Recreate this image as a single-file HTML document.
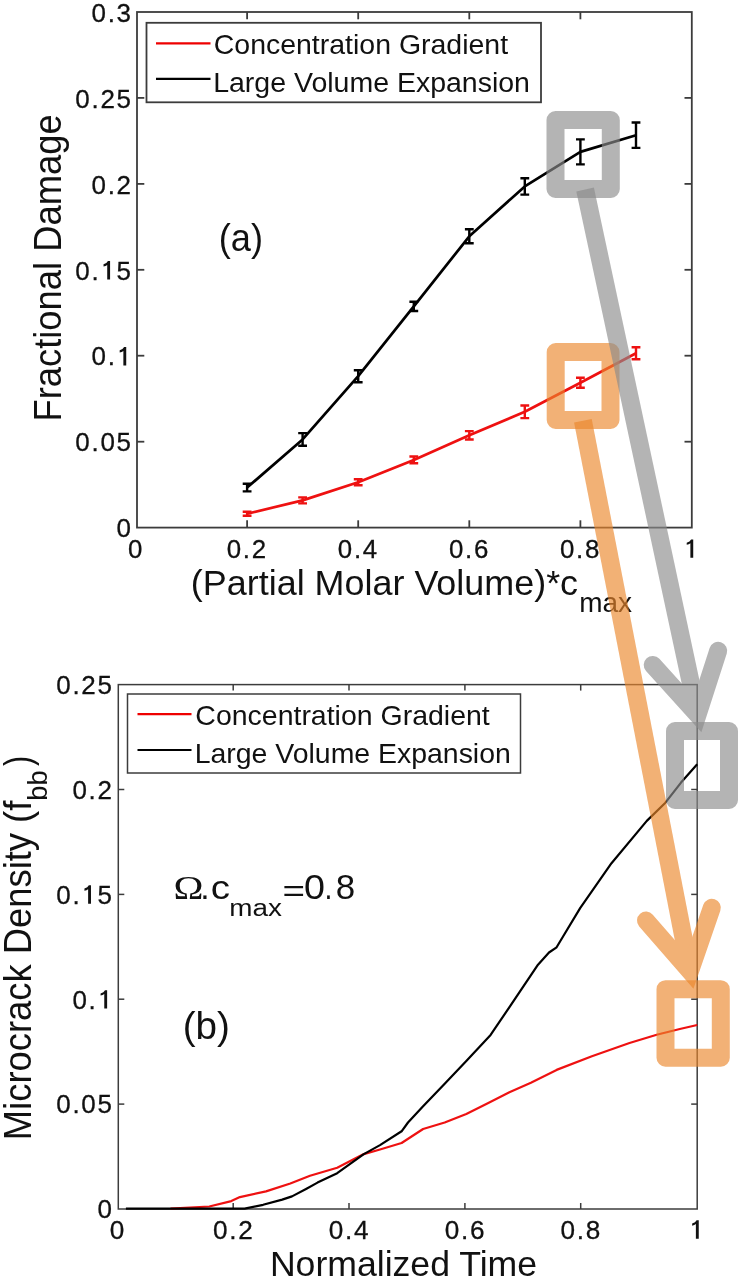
<!DOCTYPE html>
<html><head><meta charset="utf-8"><style>
html,body{margin:0;padding:0;background:#fff;width:742px;height:1280px;overflow:hidden}
svg{display:block;filter:blur(0.35px)}
text{font-family:"Liberation Sans", sans-serif;fill:#111}
.tk{stroke:#111;stroke-width:0.3px}
</style></head><body>
<svg width="742" height="1280" viewBox="0 0 742 1280">
<rect x="137.0" y="12.0" width="554.8" height="515.6" fill="none" stroke="#3c3c3c" stroke-width="1.8"/>
<text class="tk" x="116.56" y="537.35" font-size="25.99">0</text>
<line x1="137.0" y1="441.7" x2="144.3" y2="441.7" stroke="#3c3c3c" stroke-width="1.8"/>
<line x1="691.8" y1="441.7" x2="684.5" y2="441.7" stroke="#3c3c3c" stroke-width="1.8"/>
<text class="tk" x="75.33 91.49 100.41 116.56" y="451.41" font-size="25.99">0.05</text>
<line x1="137.0" y1="355.7" x2="144.3" y2="355.7" stroke="#3c3c3c" stroke-width="1.8"/>
<line x1="691.8" y1="355.7" x2="684.5" y2="355.7" stroke="#3c3c3c" stroke-width="1.8"/>
<text class="tk" x="91.49 107.64" y="365.48" font-size="25.99">0.</text><path d="M0.262,0L0.372,0L0.372,-0.709L0.29,-0.709Q0.25,-0.62,0.12,-0.585L0.12,-0.5Q0.21,-0.52,0.262,-0.56Z" transform="translate(116.56,365.48) scale(25.99)" fill="#111"/>
<line x1="137.0" y1="269.8" x2="144.3" y2="269.8" stroke="#3c3c3c" stroke-width="1.8"/>
<line x1="691.8" y1="269.8" x2="684.5" y2="269.8" stroke="#3c3c3c" stroke-width="1.8"/>
<text class="tk" x="75.33 91.49 116.56" y="279.55" font-size="25.99">0.5</text><path d="M0.262,0L0.372,0L0.372,-0.709L0.29,-0.709Q0.25,-0.62,0.12,-0.585L0.12,-0.5Q0.21,-0.52,0.262,-0.56Z" transform="translate(100.41,279.55) scale(25.99)" fill="#111"/>
<line x1="137.0" y1="183.9" x2="144.3" y2="183.9" stroke="#3c3c3c" stroke-width="1.8"/>
<line x1="691.8" y1="183.9" x2="684.5" y2="183.9" stroke="#3c3c3c" stroke-width="1.8"/>
<text class="tk" x="91.49 107.64 116.56" y="193.61" font-size="25.99">0.2</text>
<line x1="137.0" y1="97.9" x2="144.3" y2="97.9" stroke="#3c3c3c" stroke-width="1.8"/>
<line x1="691.8" y1="97.9" x2="684.5" y2="97.9" stroke="#3c3c3c" stroke-width="1.8"/>
<text class="tk" x="75.33 91.49 100.41 116.56" y="107.68" font-size="25.99">0.25</text>
<text class="tk" x="91.49 107.64 116.56" y="21.75" font-size="25.99">0.3</text>
<text class="tk" x="128.11" y="557.75" font-size="25.85">0</text>
<line x1="247.1" y1="527.6" x2="247.1" y2="520.3000000000001" stroke="#3c3c3c" stroke-width="1.8"/>
<line x1="247.1" y1="12.0" x2="247.1" y2="19.3" stroke="#3c3c3c" stroke-width="1.8"/>
<text class="tk" x="226.73 242.81 251.69" y="557.75" font-size="25.85">0.2</text>
<line x1="358.2" y1="527.6" x2="358.2" y2="520.3000000000001" stroke="#3c3c3c" stroke-width="1.8"/>
<line x1="358.2" y1="12.0" x2="358.2" y2="19.3" stroke="#3c3c3c" stroke-width="1.8"/>
<text class="tk" x="337.83 353.91 362.79" y="557.75" font-size="25.85">0.4</text>
<line x1="469.3" y1="527.6" x2="469.3" y2="520.3000000000001" stroke="#3c3c3c" stroke-width="1.8"/>
<line x1="469.3" y1="12.0" x2="469.3" y2="19.3" stroke="#3c3c3c" stroke-width="1.8"/>
<text class="tk" x="448.93 465.01 473.89" y="557.75" font-size="25.85">0.6</text>
<line x1="580.4" y1="527.6" x2="580.4" y2="520.3000000000001" stroke="#3c3c3c" stroke-width="1.8"/>
<line x1="580.4" y1="12.0" x2="580.4" y2="19.3" stroke="#3c3c3c" stroke-width="1.8"/>
<text class="tk" x="560.03 576.11 584.99" y="557.75" font-size="25.85">0.8</text>
<path d="M0.262,0L0.372,0L0.372,-0.709L0.29,-0.709Q0.25,-0.62,0.12,-0.585L0.12,-0.5Q0.21,-0.52,0.262,-0.56Z" transform="translate(683.61,557.75) scale(25.85)" fill="#111"/>
<polyline points="247.1,513.7 302.6,500.4 358.2,482.2 413.8,459.9 469.3,435.3 524.8,411.8 580.4,382.7 636.0,353.3" fill="none" stroke="#ee1111" stroke-width="2.7" stroke-linejoin="round"/>
<path d="M247.1,511.7V515.7M242.7,511.7h8.8M242.7,515.7h8.8" stroke="#ee1111" stroke-width="2.4" fill="none"/>
<path d="M302.6,497.4V503.4M298.2,497.4h8.8M298.2,503.4h8.8" stroke="#ee1111" stroke-width="2.4" fill="none"/>
<path d="M358.2,479.2V485.2M353.8,479.2h8.8M353.8,485.2h8.8" stroke="#ee1111" stroke-width="2.4" fill="none"/>
<path d="M413.8,456.5V463.3M409.4,456.5h8.8M409.4,463.3h8.8" stroke="#ee1111" stroke-width="2.4" fill="none"/>
<path d="M469.3,431.1V439.5M464.9,431.1h8.8M464.9,439.5h8.8" stroke="#ee1111" stroke-width="2.4" fill="none"/>
<path d="M524.8,405.5V418.1M520.4,405.5h8.8M520.4,418.1h8.8" stroke="#ee1111" stroke-width="2.4" fill="none"/>
<path d="M580.4,377.7V387.7M576.0,377.7h8.8M576.0,387.7h8.8" stroke="#ee1111" stroke-width="2.4" fill="none"/>
<path d="M636.0,347.3V359.3M631.6,347.3h8.8M631.6,359.3h8.8" stroke="#ee1111" stroke-width="2.4" fill="none"/>
<polyline points="247.1,487.6 302.6,439.4 358.2,376.2 413.8,306.4 469.3,236.3 524.8,186.4 580.4,151.9 636.0,135.2" fill="none" stroke="#000" stroke-width="2.7" stroke-linejoin="round"/>
<path d="M247.1,483.8V491.4M242.7,483.8h8.8M242.7,491.4h8.8" stroke="#000" stroke-width="2.4" fill="none"/>
<path d="M302.6,433.1V445.7M298.2,433.1h8.8M298.2,445.7h8.8" stroke="#000" stroke-width="2.4" fill="none"/>
<path d="M358.2,370.2V382.2M353.8,370.2h8.8M353.8,382.2h8.8" stroke="#000" stroke-width="2.4" fill="none"/>
<path d="M413.8,301.8V311.0M409.4,301.8h8.8M409.4,311.0h8.8" stroke="#000" stroke-width="2.4" fill="none"/>
<path d="M469.3,229.3V243.3M464.9,229.3h8.8M464.9,243.3h8.8" stroke="#000" stroke-width="2.4" fill="none"/>
<path d="M524.8,178.2V194.6M520.4,178.2h8.8M520.4,194.6h8.8" stroke="#000" stroke-width="2.4" fill="none"/>
<path d="M580.4,139.4V164.4M576.0,139.4h8.8M576.0,164.4h8.8" stroke="#000" stroke-width="2.4" fill="none"/>
<path d="M636.0,122.5V147.9M631.6,122.5h8.8M631.6,147.9h8.8" stroke="#000" stroke-width="2.4" fill="none"/>
<rect x="146.5" y="22.8" width="394.5" height="79.5" fill="#fff" stroke="#3c3c3c" stroke-width="1.8"/>
<line x1="156" y1="43.3" x2="210.5" y2="43.3" stroke="#e00" stroke-width="2.2"/>
<line x1="156" y1="78.9" x2="210.5" y2="78.9" stroke="#000" stroke-width="2.2"/>
<text transform="translate(213.75,53.80) scale(1.0281,1)" font-size="27.70" >Concentration Gradient</text>
<text transform="translate(213.16,91.80) scale(1.0290,1)" font-size="27.70" >Large Volume Expansion</text>
<text transform="translate(60.80,421.58) rotate(-90) scale(0.9572,1)" font-size="38.00" >Fractional Damage</text>
<text transform="translate(190.87,594.80) scale(0.9979,1)" font-size="36.00" >(Partial Molar Volume)*c</text>
<text transform="translate(579.14,612.03) scale(1.0152,1)" font-size="27.56" >max</text>
<text transform="translate(218.75,251.22) scale(0.9405,1)" font-size="38.53" >(a)</text>
<rect x="118.3" y="684.6" width="578.9000000000001" height="524.4" fill="none" stroke="#3c3c3c" stroke-width="1.5"/>
<text class="tk" x="97.46" y="1218.35" font-size="25.99">0</text>
<line x1="118.3" y1="1104.1" x2="124.3" y2="1104.1" stroke="#3c3c3c" stroke-width="1.5"/>
<line x1="697.2" y1="1104.1" x2="691.2" y2="1104.1" stroke="#3c3c3c" stroke-width="1.5"/>
<text class="tk" x="56.23 72.39 81.31 97.46" y="1113.47" font-size="25.99">0.05</text>
<line x1="118.3" y1="999.2" x2="124.3" y2="999.2" stroke="#3c3c3c" stroke-width="1.5"/>
<line x1="697.2" y1="999.2" x2="691.2" y2="999.2" stroke="#3c3c3c" stroke-width="1.5"/>
<text class="tk" x="72.39 88.54" y="1008.59" font-size="25.99">0.</text><path d="M0.262,0L0.372,0L0.372,-0.709L0.29,-0.709Q0.25,-0.62,0.12,-0.585L0.12,-0.5Q0.21,-0.52,0.262,-0.56Z" transform="translate(97.46,1008.59) scale(25.99)" fill="#111"/>
<line x1="118.3" y1="894.4" x2="124.3" y2="894.4" stroke="#3c3c3c" stroke-width="1.5"/>
<line x1="697.2" y1="894.4" x2="691.2" y2="894.4" stroke="#3c3c3c" stroke-width="1.5"/>
<text class="tk" x="56.23 72.39 97.46" y="903.71" font-size="25.99">0.5</text><path d="M0.262,0L0.372,0L0.372,-0.709L0.29,-0.709Q0.25,-0.62,0.12,-0.585L0.12,-0.5Q0.21,-0.52,0.262,-0.56Z" transform="translate(81.31,903.71) scale(25.99)" fill="#111"/>
<line x1="118.3" y1="789.5" x2="124.3" y2="789.5" stroke="#3c3c3c" stroke-width="1.5"/>
<line x1="697.2" y1="789.5" x2="691.2" y2="789.5" stroke="#3c3c3c" stroke-width="1.5"/>
<text class="tk" x="72.39 88.54 97.46" y="798.83" font-size="25.99">0.2</text>
<text class="tk" x="56.23 72.39 81.31 97.46" y="693.95" font-size="25.99">0.25</text>
<text class="tk" x="109.73" y="1238.74" font-size="26.13">0</text>
<line x1="233.2" y1="1209.0" x2="233.2" y2="1203.0" stroke="#3c3c3c" stroke-width="1.5"/>
<line x1="233.2" y1="684.6" x2="233.2" y2="690.6" stroke="#3c3c3c" stroke-width="1.5"/>
<text class="tk" x="213.00 229.23 238.19" y="1238.74" font-size="26.13">0.2</text>
<line x1="349.0" y1="1209.0" x2="349.0" y2="1203.0" stroke="#3c3c3c" stroke-width="1.5"/>
<line x1="349.0" y1="684.6" x2="349.0" y2="690.6" stroke="#3c3c3c" stroke-width="1.5"/>
<text class="tk" x="328.86 345.09 354.05" y="1238.74" font-size="26.13">0.4</text>
<line x1="464.9" y1="1209.0" x2="464.9" y2="1203.0" stroke="#3c3c3c" stroke-width="1.5"/>
<line x1="464.9" y1="684.6" x2="464.9" y2="690.6" stroke="#3c3c3c" stroke-width="1.5"/>
<text class="tk" x="444.72 460.95 469.91" y="1238.74" font-size="26.13">0.6</text>
<line x1="580.7" y1="1209.0" x2="580.7" y2="1203.0" stroke="#3c3c3c" stroke-width="1.5"/>
<line x1="580.7" y1="684.6" x2="580.7" y2="690.6" stroke="#3c3c3c" stroke-width="1.5"/>
<text class="tk" x="560.58 576.81 585.77" y="1238.74" font-size="26.13">0.8</text>
<path d="M0.262,0L0.372,0L0.372,-0.709L0.29,-0.709Q0.25,-0.62,0.12,-0.585L0.12,-0.5Q0.21,-0.52,0.262,-0.56Z" transform="translate(689.03,1238.74) scale(26.13)" fill="#111"/>
<polyline points="170.5,1208.6 209.3,1206.5 231.3,1201.1 239.9,1197.1 266.0,1191.4 290.3,1183.5 310.0,1175.7 337.2,1167.7 363.8,1154.1 380.0,1149.5 401.6,1143.0 423.1,1129.0 444.7,1122.5 466.3,1113.9 487.8,1103.2 509.4,1092.3 530.9,1082.7 556.6,1069.9 591.9,1056.2 629.5,1043.0 656.7,1034.7 679.8,1029.0 697.2,1025.0" fill="none" stroke="#ee1111" stroke-width="2.2" stroke-linejoin="round"/>
<polyline points="125.9,1208.6 244.6,1208.6 263.1,1204.8 282.2,1199.6 292.0,1196.4 306.5,1188.7 317.5,1182.6 337.2,1173.2 363.8,1154.1 380.0,1145.1 401.6,1131.3 408.0,1122.5 423.1,1106.3 444.7,1083.7 466.3,1061.1 490.6,1034.9 510.8,1005.1 538.0,964.7 549.0,952.5 556.6,947.3 564.7,933.7 580.3,907.9 611.5,863.2 646.8,820.9 665.4,802.7 681.0,782.6 697.2,764.3" fill="none" stroke="#000" stroke-width="2.2" stroke-linejoin="round"/>
<rect x="127.5" y="694" width="393" height="79" fill="#fff" stroke="#3c3c3c" stroke-width="1.5"/>
<line x1="137.5" y1="714.1" x2="191.5" y2="714.1" stroke="#e00" stroke-width="2.2"/>
<line x1="137.5" y1="750" x2="191.5" y2="750" stroke="#000" stroke-width="2.2"/>
<text transform="translate(195.35,724.50) scale(1.0285,1)" font-size="27.70" >Concentration Gradient</text>
<text transform="translate(194.67,763.20) scale(1.0270,1)" font-size="27.70" >Large Volume Expansion</text>
<text transform="translate(30.70,1140.18) rotate(-90) scale(0.9575,1)" font-size="38.00" >Microcrack Density (f</text>
<text transform="translate(46.50,800.66) rotate(-90) scale(1.0126,1)" font-size="27.00" >bb</text>
<text transform="translate(30.70,765.98) rotate(-90) scale(0.8040,1)" font-size="38.00" >)</text>
<text transform="translate(269.88,1275.60) scale(0.9895,1)" font-size="36.00" >Normalized Time</text>
<text transform="translate(173.61,899.00) scale(1.1922,1)" font-size="33.83"  style="font-family:'Liberation Serif', serif">Ω</text>
<text transform="translate(200.13,899.00) scale(0.9885,1)" font-size="34.00" >.</text>
<text transform="translate(210.76,899.48) scale(1.1850,1)" font-size="32.49" >c</text>
<text transform="translate(229.25,916.16) scale(1.1394,1)" font-size="24.46" >max</text>
<text transform="translate(282.42,901.06) scale(1.2788,1)" font-size="30.10" >=</text>
<text transform="translate(303.93,899.16) scale(1.0926,1)" font-size="34.46" >0</text>
<text transform="translate(324.41,899.30) scale(0.8340,1)" font-size="34.00" >.</text>
<text transform="translate(335.78,899.16) scale(1.0141,1)" font-size="34.46" >8</text>
<text transform="translate(182.70,1038.53) scale(1.0185,1)" font-size="38.00" >(b)</text>
<rect x="555.5" y="120.0" width="55.3" height="69.0" fill="none" stroke="#8c8c8c" stroke-opacity="0.65" stroke-width="18" stroke-linejoin="round"/>
<rect x="675.0" y="731.0" width="54.0" height="69.0" fill="none" stroke="#8c8c8c" stroke-opacity="0.65" stroke-width="18" stroke-linejoin="round"/>
<rect x="555.7" y="352.0" width="54.8" height="68.0" fill="none" stroke="#eb872c" stroke-opacity="0.65" stroke-width="18" stroke-linejoin="round"/>
<rect x="665.5" y="989.2" width="55.3" height="68.5" fill="none" stroke="#eb872c" stroke-opacity="0.65" stroke-width="18" stroke-linejoin="round"/>
<g opacity="0.65"><line x1="585.1" y1="189.5" x2="697.6" y2="714.6" stroke="#8c8c8c" stroke-width="18"/><polyline points="718.2,650.8 697.6,714.6 652.7,664.9" fill="none" stroke="#8c8c8c" stroke-width="18" stroke-linecap="round" stroke-linejoin="miter" stroke-miterlimit="10"/></g>
<g opacity="0.65"><line x1="582.9" y1="420.7" x2="690.0" y2="971.2" stroke="#eb872c" stroke-width="18"/><polyline points="711.8,907.8 690.0,971.2 646.0,920.6" fill="none" stroke="#eb872c" stroke-width="18" stroke-linecap="round" stroke-linejoin="miter" stroke-miterlimit="10"/></g>
</svg>
</body></html>
